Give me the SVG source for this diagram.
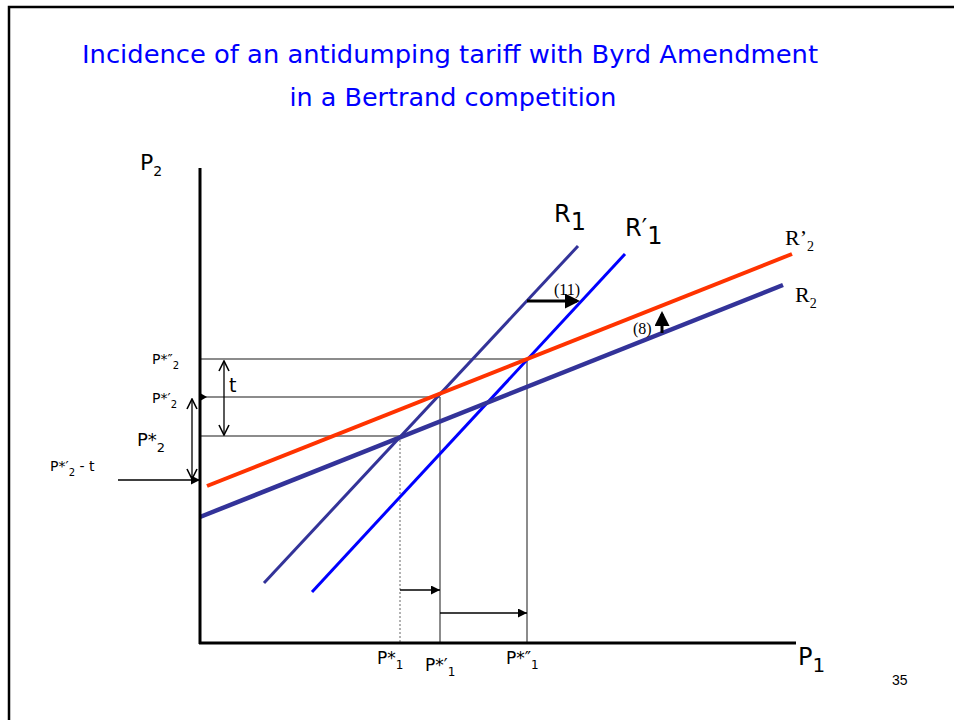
<svg xmlns="http://www.w3.org/2000/svg" width="954" height="720" viewBox="0 0 954 720">
<style>
.t{font-family:"DejaVu Sans","Liberation Sans",sans-serif;fill:#000}
.s{font-family:"Liberation Serif","DejaVu Serif",serif;fill:#000}
.title{font-family:"DejaVu Sans","Liberation Sans",sans-serif;fill:#0000ff;font-size:25.5px}
.g{stroke:#666;stroke-width:1.5;fill:none}
.k{stroke:#000;stroke-width:1.3;fill:none}
</style>
<defs>
<marker id="ah" viewBox="0 0 10 10" refX="10" refY="5" markerWidth="9" markerHeight="9" markerUnits="userSpaceOnUse" orient="auto-start-reverse"><path d="M0,0 L10,5 L0,10 z" fill="#000"/></marker>
<marker id="ao" viewBox="0 0 12 12" refX="11" refY="6" markerWidth="12" markerHeight="12" markerUnits="userSpaceOnUse" orient="auto-start-reverse"><path d="M1,1 L11,6 L1,11" fill="none" stroke="#000" stroke-width="1.6"/></marker>
<marker id="bh" viewBox="0 0 10 10" refX="8" refY="5" markerWidth="5" markerHeight="5" orient="auto"><path d="M0,0 L10,5 L0,10 z" fill="#000"/></marker>
</defs>
<rect x="0" y="0" width="954" height="720" fill="#fff"/>
<rect x="9" y="7" width="960" height="730" fill="none" stroke="#000" stroke-width="2.5"/>
<g id="title">
<text class="title" x="450" y="63" text-anchor="middle" textLength="736" lengthAdjust="spacingAndGlyphs">Incidence of an antidumping tariff with Byrd Amendment</text>
<text class="title" x="453" y="106" text-anchor="middle" textLength="327" lengthAdjust="spacingAndGlyphs">in a Bertrand competition</text>
</g>
<g id="guides">
<line class="g" x1="200" y1="359" x2="527" y2="359"/>
<line class="g" x1="200" y1="397" x2="440" y2="397"/>
<line class="g" x1="200" y1="436" x2="400" y2="436"/>
<line class="g" x1="527" y1="359" x2="527" y2="643"/>
<line class="g" x1="440" y1="397" x2="440" y2="643"/>
<line x1="400" y1="436" x2="400" y2="643" stroke="#666" stroke-width="1" stroke-dasharray="2,2"/>
</g>
<g id="curves">
<line x1="264" y1="583" x2="578" y2="246" stroke="#333399" stroke-width="3"/>
<line x1="312" y1="592" x2="625" y2="254" stroke="#0000ff" stroke-width="3"/>
<line x1="200" y1="517" x2="783" y2="285" stroke="#333399" stroke-width="4.5"/>
<line x1="207" y1="486" x2="792" y2="254" stroke="#ff3300" stroke-width="4"/>
</g>
<g id="axes">
<line x1="200" y1="168" x2="200" y2="644" stroke="#000" stroke-width="3"/>
<line x1="199" y1="643" x2="796" y2="643" stroke="#000" stroke-width="3"/>
</g>
<g id="connectors">
<line class="k" x1="400" y1="590" x2="440" y2="590" marker-end="url(#ah)"/>
<line class="k" x1="440" y1="613" x2="527" y2="613" marker-end="url(#ah)"/>
<line class="k" x1="224" y1="361" x2="224" y2="435" marker-start="url(#ao)" marker-end="url(#ao)"/>
<line class="k" x1="192" y1="399" x2="192" y2="479" marker-start="url(#ao)" marker-end="url(#ao)"/>
<line class="k" x1="118" y1="480" x2="200" y2="480" marker-end="url(#ah)"/>
<path d="M200,393 L207,397 L200,401 z" fill="#000"/>
<line x1="527" y1="301" x2="577" y2="301" stroke="#000" stroke-width="3" marker-end="url(#bh)"/>
<line x1="662" y1="333" x2="662" y2="314" stroke="#000" stroke-width="3" marker-end="url(#bh)"/>
</g>
<g id="labels">
<text class="t" x="140" y="170" font-size="22">P<tspan font-size="14" dy="6">2</tspan></text>
<text class="t" x="554" y="222" font-size="24">R<tspan font-size="24" dy="8">1</tspan></text>
<text class="t" x="625" y="236" font-size="24">R′<tspan font-size="24" dy="8">1</tspan></text>
<text class="s" x="785" y="245" font-size="22">R’<tspan font-size="14" dy="6">2</tspan></text>
<text class="s" x="795" y="302" font-size="22">R<tspan font-size="14" dy="6">2</tspan></text>
<text class="s" x="554" y="295" font-size="16">(11)</text>
<text class="s" x="633" y="334" font-size="16">(8)</text>
<text class="t" x="152" y="364" font-size="14">P*″<tspan font-size="10" dy="5">2</tspan></text>
<text class="t" x="152" y="403" font-size="14">P*′<tspan font-size="10" dy="5">2</tspan></text>
<text class="t" x="137" y="446" font-size="18">P*<tspan font-size="13" dy="6">2</tspan></text>
<text class="t" x="229" y="392" font-size="19">t</text>
<text class="t" x="50" y="471" font-size="14">P*′<tspan font-size="10" dy="5">2</tspan><tspan dy="-5"> - t</tspan></text>
<text class="t" x="377" y="664" font-size="17">P*<tspan font-size="12" dy="5">1</tspan></text>
<text class="t" x="425" y="671" font-size="17">P*′<tspan font-size="12" dy="5">1</tspan></text>
<text class="t" x="506" y="664" font-size="17">P*″<tspan font-size="12" dy="5">1</tspan></text>
<text class="t" x="798" y="665" font-size="24">P<tspan font-size="20" dy="7">1</tspan></text>
<text x="892" y="685" font-size="14" font-family="Liberation Sans,Arial,sans-serif">35</text>
</g>
</svg>
